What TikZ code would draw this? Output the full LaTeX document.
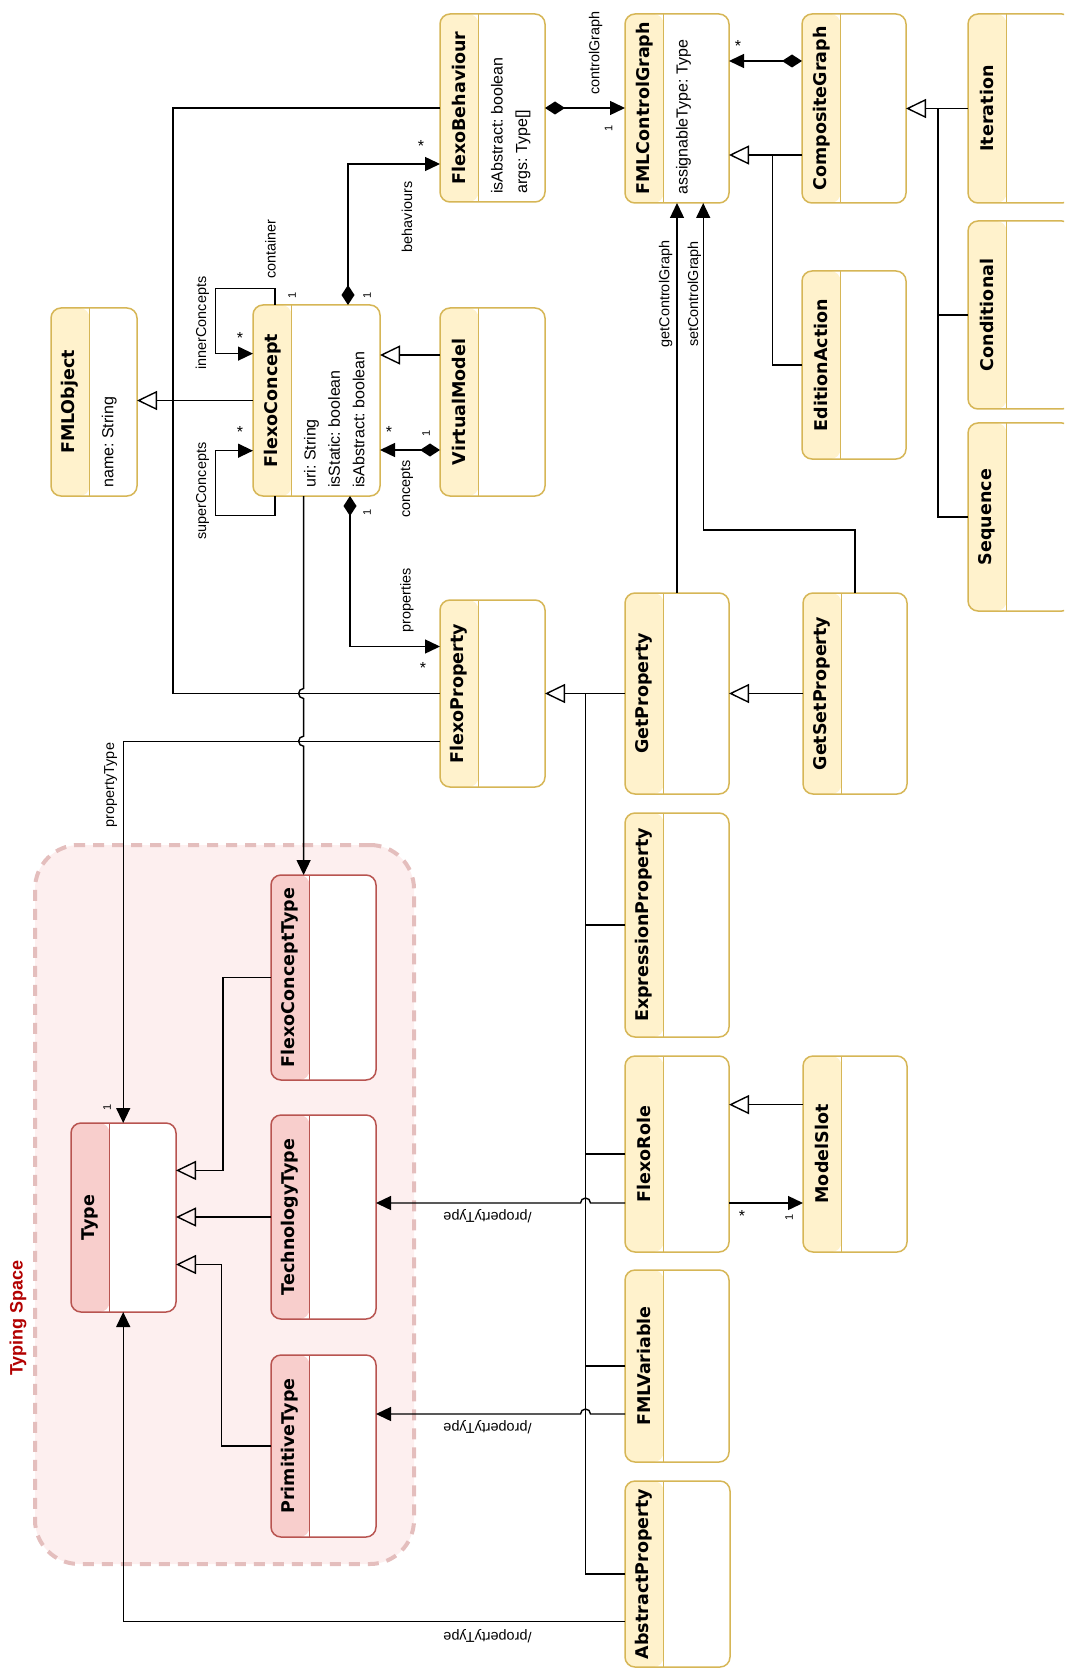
\documentclass[tikz,border=0pt]{standalone}
\usepackage{fontspec}
\setmainfont{Liberation Sans}
\newfontfamily\namefont{DejaVu Sans}
\usetikzlibrary{arrows.meta,positioning}
\definecolor{ydraw}{HTML}{D6B656}
\definecolor{yfill}{HTML}{FFF2CC}
\definecolor{rdraw}{HTML}{B85450}
\definecolor{rfill}{HTML}{F8CECC}
\definecolor{tsred}{HTML}{B20000}
\frenchspacing
\tikzset{
  cls/.style 2 args={draw=#1,fill=white,rounded corners=5pt,line width=0.75pt,inner sep=0pt,outer sep=0pt,
    path picture={\fill[#2] (path picture bounding box.north west) rectangle ([xshift=19.25pt]path picture bounding box.south west);
      \draw[#1,line width=0.75pt] ([xshift=19.25pt]path picture bounding box.north west) -- ([xshift=19.25pt]path picture bounding box.south west);}},
  ycls/.style={cls={ydraw}{yfill}},
  rcls/.style={cls={rdraw}{rfill}},
  cname/.style={font=\namefont\bfseries\fontsize{8.75}{10}\selectfont,rotate=90,inner sep=0pt},
  attr/.style={font=\fontsize{8}{12.25}\selectfont,rotate=90,anchor=north west,align=left,inner sep=0pt},
  lbl/.style={font=\fontsize{7.2}{8}\selectfont,rotate=90,inner sep=0pt},
  flbl/.style={font=\fontsize{7.2}{8}\selectfont,rotate=180,inner sep=0pt},
  mult/.style={font=\fontsize{5.5}{6}\selectfont,rotate=90,inner sep=0pt},
  star/.style={font=\fontsize{8}{8}\selectfont,inner sep=0pt},
  conn/.style={line width=0.7pt,draw=black},
  gen/.style={conn,-{Triangle[open,length=10pt,width=9.5pt]}},
  assoc/.style={conn,-{Triangle[length=7.5pt,width=7pt]}},
  comp/.style={conn,{Diamond[length=10pt,width=6.5pt]}-{Triangle[length=7.5pt,width=7pt]}},
  tspace/.style={draw=rdraw!38,fill=rfill!32,line width=2pt,dash pattern=on 5.5pt off 4pt,rounded corners=22pt,inner sep=0pt},
}

\begin{document}
\begin{tikzpicture}[x=0.5pt,y=-0.5pt]
  \useasboundingbox (0,0) rectangle (1064,1668);
  \clip (0,0) rectangle (1064,1668);
  % typing space
  \node[tspace,minimum width=189.5pt,minimum height=359.5pt] (ts) at (224.5,1204.5) {};
  \node[font=\bfseries\fontsize{9}{10}\selectfont,text=tsred,rotate=90,inner sep=0pt] (ts-l) at (18,1318) {Typing Space};
  % classes
  \foreach \n/\xa/\ya/\xb/\yb/\t in {fmlobj/51/308/137/496/FMLObject, fc/253/305/380/496/FlexoConcept,
      fb/440/14/545/202/FlexoBehaviour, vm/440/308/545/496/VirtualModel, fp/440/600/545/787/FlexoProperty,
      cg/625/14/729/203/FMLControlGraph, comp/802/14/906/203/CompositeGraph, iter/968/14/1072/203/Iteration,
      cond/968/221/1072/409/Conditional, seq/968/423/1072/611/Sequence, ea/802/271/906/459/EditionAction,
      gp/625/593/729/794/GetProperty, gsp/803/593/907/794/GetSetProperty, ep/625/813/729/1037/ExpressionProperty,
      fr/625/1056/729/1252/FlexoRole, ms/803/1056/907/1252/ModelSlot, fv/625/1270/729/1462/FMLVariable,
      ap/625/1481/730/1667/AbstractProperty}{
    \node[ycls,minimum width={(\xb-\xa)*0.5pt},minimum height={(\yb-\ya)*0.5pt}] (\n) at ({(\xa+\xb)/2},{(\ya+\yb)/2}) {};
    \node[cname] (\n-t) at ([xshift=9.6pt]\n.west) {\t};
  }
  \foreach \n/\xa/\ya/\xb/\yb/\t in {fct/271/875/376/1080/FlexoConceptType, typ/71/1123/176/1312/Type,
      tt/271/1115/376/1319/TechnologyType, pt/271/1355/376/1537/PrimitiveType}{
    \node[rcls,minimum width={(\xb-\xa)*0.5pt},minimum height={(\yb-\ya)*0.5pt}] (\n) at ({(\xa+\xb)/2},{(\ya+\yb)/2}) {};
    \node[cname] (\n-t) at ([xshift=9.6pt]\n.west) {\t};
  }
  \foreach \n/\a in {fmlobj/{name: String}, fc/{uri: String\\isStatic: boolean\\isAbstract: boolean},
      fb/{isAbstract: boolean\\args: Type[]}, cg/{assignableType: Type}}
    \node[attr] (\n-a) at ([xshift=25.25pt,yshift=4pt]\n.south west) {\a};
  % generalisations
  \coordinate (j-obj) at (173,400.5);
  \coordinate (j-fp) at (585.5,693.5);
  \coordinate (j-cg) at (772.6,155);
  \coordinate (j-comp) at (938,108.5);
  \draw[gen] (fc.west) -- (fmlobj.east |- fc.west);
  \draw[conn] (fb.west) -| (j-obj);
  \draw[conn] (fp.west) -| (j-obj);
  \draw[gen] (vm.west |- 0,355) -- (fc.east |- 0,355);
  \draw[gen] (comp.west |- j-cg) -- (cg.east |- j-cg);
  \draw[conn] (ea.west) -| (j-cg);
  \draw[gen] (iter.west) -- (comp.east |- iter.west);
  \draw[conn] (cond.west) -| (j-comp);
  \draw[conn] (seq.west) -| (j-comp);
  \draw[gen] (gp.west) -- (fp.east |- gp.west);
  \foreach \n in {ep,fr,fv,ap} \draw[conn] (\n.west) -| (j-fp);
  \draw[gen] (gsp.west) -- (gp.east |- gsp.west);
  \draw[gen] (ms.west |- 0,1104.6) -- (fr.east |- 0,1104.6);
  \draw[gen] (fct.west) -| (223,1170.4) -- (typ.east |- 0,1170.4);
  \draw[gen] (tt.west) -- (typ.east |- tt.west);
  \draw[gen] (pt.west) -| (221.4,1264.5) -- (typ.east |- 0,1264.5);
  % compositions
  \draw[comp] (fc.north -| 348,0) |- (fb.west |- 0,164);
  \draw[comp] (fc.south -| 350,0) |- (fp.west |- 0,646.5);
  \draw[comp] (vm.west |- 0,450) -- (fc.east |- 0,450);
  \draw[comp] (fb.east) -- (cg.west |- fb.east);
  \draw[comp] (comp.west |- 0,61) -- (cg.east |- 0,61);
  % associations
  \draw[assoc] (fc.north -| 275,0) -- (275,288.6) -| (215.4,353.6) -- (fc.west |- 0,353.6);
  \draw[assoc] (fc.south -| 275,0) -- (275,515.4) -| (215.4,450.7) -- (fc.west |- 0,450.7);
  \draw[assoc] (fc.south -| 303.6,0) -- (303.6,688.5) arc[start angle=90,end angle=270,radius=2.5pt]
    -- (303.6,736.2) arc[start angle=90,end angle=270,radius=2.5pt] -- (fct.north -| 303.6,0);
  \draw[assoc] (fp.west |- 0,741.2) -| (typ.north -| 123.2,0);
  \draw[assoc] (gp.north) -- (cg.south -| gp.north);
  \draw[assoc] (gsp.north) |- (703.2,530) -- (cg.south -| 703.2,0);
  \draw[assoc] (fr.east |- 0,1203) -- (ms.west |- 0,1203);
  \draw[assoc] (fr.west |- 0,1203) -- (590.5,1203) arc[start angle=0,end angle=180,radius=2.5pt] -- (tt.east |- 0,1203);
  \draw[assoc] (fv.west |- 0,1414) -- (590.5,1414) arc[start angle=0,end angle=180,radius=2.5pt] -- (pt.east |- 0,1414);
  \draw[assoc] (ap.west |- 0,1621.7) -| (typ.south -| 123.2,0);
  % role names
  \node[lbl] (l-cont) at (270.4,249) {container};
  \node[lbl] (l-inner) at (202.5,323) {innerConcepts};
  \node[lbl] (l-super) at (202.5,491) {superConcepts};
  \node[lbl] (l-beh) at (407,217) {behaviours};
  \node[lbl] (l-conc) at (407,489) {concepts};
  \node[lbl] (l-prop) at (407,600) {properties};
  \node[lbl] (l-ptype) at (110.7,785) {propertyType};
  \node[lbl] (l-cgraph) at (595.6,53) {controlGraph};
  \node[lbl] (l-get) at (665.7,294) {getControlGraph};
  \node[lbl] (l-set) at (694.5,294) {setControlGraph};
  \foreach \y [count=\i] in {1216,1427,1636}
    \node[flbl] (l-dpt\i) at (487.5,\y) {/propertyType};
  % multiplicities
  \foreach \x/\y [count=\i] in {292/295, 367/295, 367/512, 426/433, 608.5/128.6, 789/1217, 107/1107}
    \node[mult] (m1-\i) at (\x,\y) {1};
  \foreach \x/\y [count=\i] in {240/337.5, 240/432, 421/146, 423/668, 389/432, 738/46, 742/1216}
    \node[star] (ms-\i) at (\x,\y) {*};
\end{tikzpicture}
\end{document}
